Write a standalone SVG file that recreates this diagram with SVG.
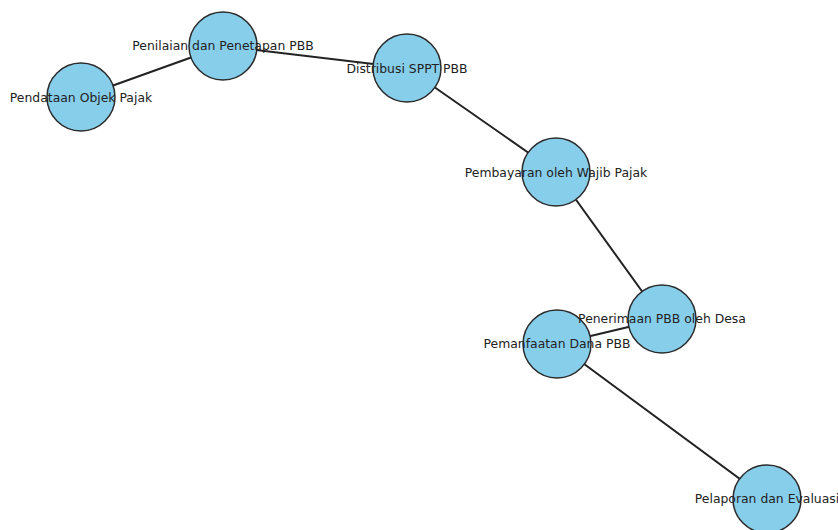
<svg xmlns="http://www.w3.org/2000/svg" width="838" height="530" viewBox="0 0 838 530">
<style>
.edge{stroke:#222;stroke-width:2;fill:none}
.node circle{fill:#87CEEB;stroke:#2b2b2b;stroke-width:1.5}
.node text{font-family:"DejaVu Sans",sans-serif;font-size:12.4px;fill:#222;text-anchor:middle;dominant-baseline:central}
</style>
<rect width="838" height="530" fill="#fff"/>
<g id="edges">
<line class="edge" x1="81" y1="97" x2="223" y2="46"/>
<line class="edge" x1="223" y1="46" x2="407" y2="68"/>
<line class="edge" x1="407" y1="68" x2="556" y2="172"/>
<line class="edge" x1="556" y1="172" x2="662" y2="319"/>
<line class="edge" x1="662" y1="319" x2="557" y2="344"/>
<line class="edge" x1="557" y1="344" x2="767" y2="499"/>
</g>
<g id="n1" class="node"><circle cx="81" cy="97" r="34"/></g>
<g id="n2" class="node"><circle cx="223" cy="46" r="34"/></g>
<g id="n3" class="node"><circle cx="407" cy="68" r="34"/></g>
<g id="n4" class="node"><circle cx="556" cy="172" r="34"/></g>
<g id="n5" class="node"><circle cx="662" cy="319" r="34"/></g>
<g id="n6" class="node"><circle cx="557" cy="344" r="34"/></g>
<g id="n7" class="node"><circle cx="767" cy="499" r="34"/></g>
<g id="labels" class="node">
<text x="81" y="97">Pendataan Objek Pajak</text>
<text x="223" y="45">Penilaian dan Penetapan PBB</text>
<text x="407" y="68">Distribusi SPPT PBB</text>
<text x="556" y="172">Pembayaran oleh Wajib Pajak</text>
<text x="662" y="318">Penerimaan PBB oleh Desa</text>
<text x="557" y="343">Pemanfaatan Dana PBB</text>
<text x="767" y="498">Pelaporan dan Evaluasi</text>
</g>
</svg>
